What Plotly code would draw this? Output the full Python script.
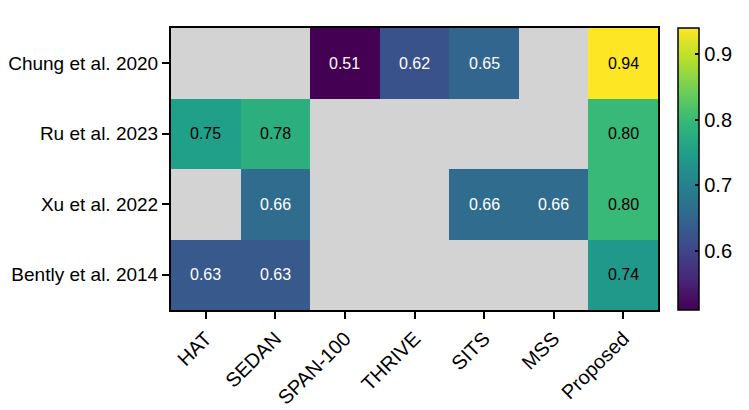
import plotly.graph_objects as go

methods = ["HAT", "SEDAN", "SPAN-100", "THRIVE", "SITS", "MSS", "Proposed"]
studies = ["Chung et al. 2020", "Ru et al. 2023", "Xu et al. 2022", "Bently et al. 2014"]
chung = [None, None, 0.51, 0.62, 0.65, None, 0.94]
ru = [0.75, 0.78, None, None, None, None, 0.80]
xu = [None, 0.66, None, None, 0.66, 0.66, 0.80]
bently = [0.63, 0.63, None, None, None, None, 0.74]
colorbar_ticks = [0.6, 0.7, 0.8, 0.9]

z = [chung, ru, xu, bently]
FONT = "Liberation Sans, Arial, sans-serif"

fig = go.Figure(go.Heatmap(
    z=z, x=methods, y=studies,
    colorscale="Viridis", zmin=0.51, zmax=0.94,
    hoverongaps=False,
    colorbar=dict(
        x=1.0405, xanchor="left", xref="paper",
        y=0.5, yanchor="middle", len=1.0, lenmode="fraction",
        xpad=0, ypad=0,
        thickness=21, thicknessmode="pixels",
        outlinecolor="black", outlinewidth=1.5,
        tickvals=colorbar_ticks, ticktext=[f"{v:.1f}" for v in colorbar_ticks],
        ticks="inside", ticklen=4, tickwidth=1.5, tickcolor="black",
        tickfont=dict(family=FONT, size=20, color="black"),
    ),
))

annotations = []
for s, row in zip(studies, z):
    for m, v in zip(methods, row):
        if v is None:
            continue
        annotations.append(dict(
            x=m, y=s, text=f"{v:.2f}", showarrow=False,
            font=dict(family=FONT, size=16, color="black" if v >= 0.72 else "white"),
        ))

fig.update_layout(
    width=749, height=410,
    margin=dict(l=171, r=84, t=28, b=100),
    paper_bgcolor="white", plot_bgcolor="#d3d3d3",
    annotations=annotations,
    font=dict(family=FONT, color="black"),
    xaxis=dict(
        tickangle=-45, ticks="outside", ticklen=7, tickwidth=2, tickcolor="black",
        showline=True, linecolor="black", linewidth=2, mirror=True,
        showgrid=False, zeroline=False, automargin=False,
        tickfont=dict(family=FONT, size=20, color="black"),
    ),
    yaxis=dict(
        autorange="reversed", ticks="outside", ticklen=7, tickwidth=2, tickcolor="black",
        showline=True, linecolor="black", linewidth=2, mirror=True,
        showgrid=False, zeroline=False, automargin=False,
        tickfont=dict(family=FONT, size=19, color="black"),
    ),
)

fig.write_html(
    "out.html",
    config={"displayModeBar": False},
    post_script="document.body.style.margin='0';document.body.style.overflow='hidden';",
)
